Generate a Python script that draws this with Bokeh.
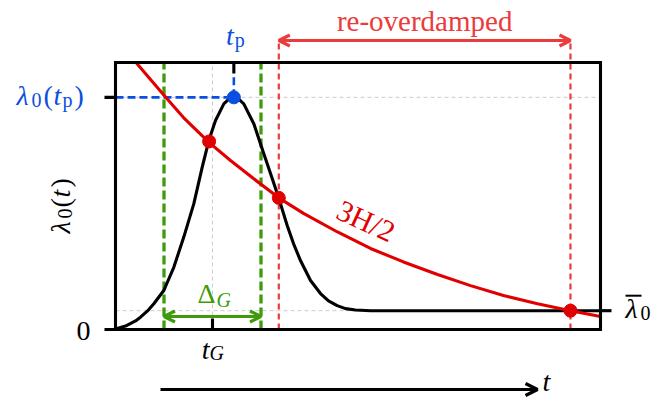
from bokeh.plotting import figure
from bokeh.models import Range1d, Label, Arrow, OpenHead
from bokeh.embed import file_html
from bokeh.resources import INLINE

# ---------------- data ----------------
# lambda_0(t): burst around t_G, then settling to lambda_bar
black_t = [0.0, 0.206, 0.412, 0.515, 0.660, 0.790, 0.996, 1.202, 1.408, 1.614, 1.788,
           1.924, 2.062, 2.233, 2.330, 2.44, 2.536, 2.645, 2.852, 3.058, 3.231, 3.367,
           3.540, 3.670, 3.814, 4.021, 4.227, 4.392, 4.571, 4.742, 4.948, 5.258, 10.0]
black_lam = [0.002, 0.015, 0.037, 0.053, 0.080, 0.111, 0.168, 0.268, 0.398, 0.541, 0.699,
             0.814, 0.900, 0.972, 0.991, 1.0, 0.993, 0.972, 0.886, 0.757, 0.650, 0.565,
             0.448, 0.370, 0.297, 0.211, 0.155, 0.123, 0.103, 0.090, 0.084, 0.081, 0.081]
# 3H/2 curve
red_t = [0.423, 0.722, 1.031, 1.402, 1.938, 2.371, 2.845, 3.367, 3.876, 4.577, 5.258,
         5.938, 6.639, 7.320, 8.000, 8.701, 9.381, 10.0]
red_lam = [1.150, 1.077, 1.001, 0.913, 0.804, 0.728, 0.650, 0.567, 0.500, 0.420, 0.349,
           0.291, 0.237, 0.189, 0.146, 0.111, 0.081, 0.056]

t_G = 2.0
delta_G = [1.0, 3.0]          # window edges
t_p = 2.44
lam_p = 1.0
lam_bar = 0.081
cross_t = [1.93, 3.367, 9.381]
cross_lam = [0.81, 0.567, 0.081]
reover = [3.367, 9.381]      # re-overdamped interval

x_lo, x_hi = 0.0, 10.0       # plot box
y_lo, y_hi = 0.0, 1.15

# ---------------- layout / styles ----------------
W, H = 670, 399
BOX_L, BOX_R, BOX_T, BOX_B = 115, 70, 62, 70      # margins around the plot box (px)
ppx = (W - BOX_L - BOX_R) / (x_hi - x_lo)
ppy = (H - BOX_T - BOX_B) / (y_hi - y_lo)

FONT = "Liberation Serif"
RED = "#e00000"
LRED = "#ea3c3c"
BLUE = "#0a4fe0"
GREEN = "#3f9b0b"
GRAY = "#cccccc"
LW = 3.1

p = figure(width=W, height=H,
           x_range=Range1d(x_lo - BOX_L / ppx, x_hi + BOX_R / ppx),
           y_range=Range1d(y_lo - BOX_B / ppy, y_hi + BOX_T / ppy),
           x_axis_location=None, y_axis_location=None, toolbar_location=None,
           output_backend="svg", min_border=0)
p.outline_line_color = None
p.xgrid.grid_line_color = None
p.ygrid.grid_line_color = None
p.background_fill_color = "white"
p.border_fill_color = "white"

# grid guides inside the box
p.segment(x0=[t_G], y0=[y_lo], x1=[t_G], y1=[y_hi], line_color=GRAY, line_width=1,
          line_dash="4 3")
p.segment(x0=[x_lo, x_lo], y0=[lam_p, lam_bar], x1=[x_hi, x_hi], y1=[lam_p, lam_bar],
          line_color=GRAY, line_width=1, line_dash="4 3")

# green window
p.segment(x0=delta_G, y0=[y_lo, y_lo], x1=delta_G, y1=[y_hi, y_hi],
          line_color=GREEN, line_width=3.3, line_dash="9 4")

# red dashed guides (extend above the box up to the arrow)
arrow_y = y_hi + 22 / ppy
p.segment(x0=reover, y0=[y_lo, y_lo], x1=reover, y1=[arrow_y, arrow_y],
          line_color=LRED, line_width=2.2, line_dash="6 4")

# blue dashed guides to the peak
p.segment(x0=[x_lo, t_p], y0=[lam_p, lam_p], x1=[t_p, t_p], y1=[lam_p, y_hi - 13 / ppy],
          line_color=BLUE, line_width=2.6, line_dash="8 4")

# curves
p.line(black_t, black_lam, line_color="black", line_width=LW)
p.line(red_t, red_lam, line_color=RED, line_width=LW)

# plot box and ticks
p.quad(left=[x_lo], right=[x_hi], bottom=[y_lo], top=[y_hi], fill_color=None,
       line_color="black", line_width=LW, line_join="miter")
tx, ty = 11 / ppx, 11 / ppy
p.segment(x0=[x_lo - tx, x_lo - tx, t_G, t_p, x_hi],
          y0=[y_lo, lam_p, y_lo, y_hi - ty, lam_bar],
          x1=[x_lo, x_lo, t_G, t_p, x_hi + tx],
          y1=[y_lo, lam_p, y_lo + ty, y_hi, lam_bar],
          line_color="black", line_width=LW)

p.scatter(cross_t, cross_lam, size=13, color=RED)
p.scatter([t_p], [lam_p], size=13, color=BLUE)

# arrows
p.add_layout(Arrow(x_start=reover[0], y_start=arrow_y, x_end=reover[1], y_end=arrow_y,
                   start=OpenHead(size=11, line_width=3.2, line_color=LRED),
                   end=OpenHead(size=11, line_width=3.2, line_color=LRED),
                   line_color=LRED, line_width=3.2))
p.add_layout(Arrow(x_start=delta_G[0], y_start=0.056, x_end=delta_G[1], y_end=0.056,
                   start=OpenHead(size=11, line_width=3.2, line_color=GREEN),
                   end=OpenHead(size=11, line_width=3.2, line_color=GREEN),
                   line_color=GREEN, line_width=3.2))
time_y = y_lo - 60 / ppy
time_x0 = x_lo + 45 / ppx
time_x1 = x_lo + 422 / ppx
p.add_layout(Arrow(x_start=time_x0, y_start=time_y, x_end=time_x1, y_end=time_y,
                   end=OpenHead(size=12, line_width=3.2, line_color="black"),
                   line_color="black", line_width=3.2))

# overbar of lambda-bar label
p.segment(x0=[x_hi + 25 / ppx], y0=[lam_bar + 15 / ppy], x1=[x_hi + 41 / ppx],
          y1=[lam_bar + 15 / ppy], line_color="black", line_width=2)

# ---------------- texts ----------------
FIX = 10   # compensates the renderer's baseline placement (px, along text "up")

def lab(text, x, y, dx=0, dy=0, size=28, color="black", italic=False, align="left",
        angle=0.0, fx=0, fy=FIX):
    p.add_layout(Label(x=x, y=y, x_offset=dx + fx, y_offset=dy + fy, text=text,
                       text_font=FONT, text_font_size=f"{size}px",
                       text_font_style="italic" if italic else "normal",
                       text_color=color, text_align=align, text_baseline="alphabetic",
                       angle=angle))

SUB = 20
# t_p above the box
lab("t", t_p, y_hi, dx=0, dy=17, color=BLUE, italic=True, align="right")
lab("p", t_p, y_hi, dx=1, dy=13, size=SUB, color=BLUE)
# lambda_0(t_p) on the left
lab("λ", x_lo, lam_p, dx=-99, dy=-8, color=BLUE, italic=True)
lab("0", x_lo, lam_p, dx=-84, dy=-13, size=SUB, color=BLUE)
lab("(", x_lo, lam_p, dx=-72, dy=-8, color=BLUE)
lab("t", x_lo, lam_p, dx=-62, dy=-8, color=BLUE, italic=True)
lab("p", x_lo, lam_p, dx=-53, dy=-13, size=SUB, color=BLUE)
lab(")", x_lo, lam_p, dx=-41, dy=-8, color=BLUE)
# 0 tick label
lab("0", x_lo, y_lo, dx=-25, dy=-11, align="right")
# y label lambda_0(t), rotated
R = 1.5708
lab("λ", x_lo, y_lo, dx=-45, dy=96, italic=True, angle=R, fx=-FIX, fy=0)
lab("0", x_lo, y_lo, dx=-41, dy=111, size=SUB, angle=R, fx=-FIX, fy=0)
lab("(", x_lo, y_lo, dx=-45, dy=122, angle=R, fx=-FIX, fy=0)
lab("t", x_lo, y_lo, dx=-45, dy=132, italic=True, angle=R, fx=-FIX, fy=0)
lab(")", x_lo, y_lo, dx=-45, dy=142, angle=R, fx=-FIX, fy=0)
# t_G
lab("t", t_G, y_lo, dx=-3, dy=-30, italic=True, align="right")
lab("G", t_G, y_lo, dx=-3, dy=-33, size=SUB, italic=True)
# Delta_G
lab("Δ", t_G, y_lo, dx=3, dy=26, color=GREEN, align="right")
lab("G", t_G, y_lo, dx=4, dy=20, size=SUB, color=GREEN, italic=True)
# re-overdamped
lab("re-overdamped", (reover[0] + reover[1]) / 2, y_hi, dy=32, size=29, color=LRED,
    align="center")
# 3H/2
lab("3H/2", 5.25, 0.43, size=30, color=RED, align="center", angle=-0.43, fx=-4, fy=9)
# lambda bar
lab("λ", x_hi, lam_bar, dx=25, dy=-8, italic=True)
lab("0", x_hi, lam_bar, dx=40, dy=-12, size=SUB)
# t at the end of the time arrow
lab("t", time_x1, time_y, dx=5, dy=-2, italic=True)

open("out.html", "w").write(file_html(p, INLINE))
